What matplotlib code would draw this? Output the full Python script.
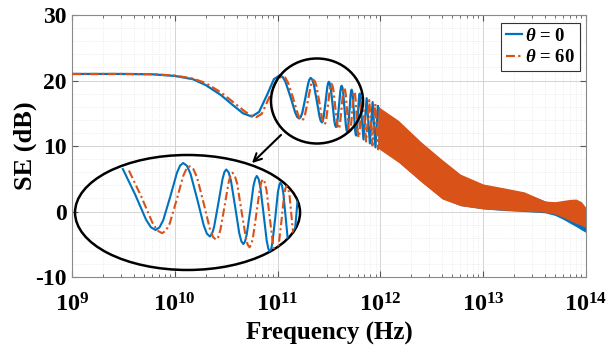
import matplotlib
matplotlib.use("Agg")
import numpy as np
import matplotlib.pyplot as plt
from matplotlib.patches import Ellipse, FancyArrowPatch
from matplotlib.ticker import MultipleLocator, LogLocator, NullFormatter, FuncFormatter

plt.rcParams['font.family'] = ['Liberation Serif', 'DejaVu Serif']
plt.rcParams['font.weight'] = 'bold'
plt.rcParams['axes.labelweight'] = 'bold'
plt.rcParams['axes.unicode_minus'] = False
plt.rcParams['mathtext.fontset'] = 'custom'
plt.rcParams['mathtext.rm'] = 'Liberation Serif:bold'
plt.rcParams['mathtext.it'] = 'Liberation Serif:italic:bold'
plt.rcParams['mathtext.bf'] = 'Liberation Serif:bold'

BLUE = '#0072BD'
ORANGE = '#D95319'

# theta = 0, resolved part of the curve (frequency in units of 1e11 Hz, SE in dB)
blue_f = [0.01, 0.03, 0.06, 0.1, 0.15, 0.2, 0.28, 0.37, 0.46, 0.56,
          0.66, 0.8, 0.92,
          1.05, 1.12, 1.19, 1.335, 1.48, 1.55, 1.62,
          1.68, 1.74, 1.86, 1.98, 2.04, 2.1,
          2.175, 2.25, 2.4, 2.55, 2.625, 2.7,
          2.755, 2.81, 2.925, 3.04, 3.095, 3.15,
          3.22, 3.29, 3.425, 3.56, 3.63, 3.7,
          3.76, 3.82, 3.95, 4.07, 4.14, 4.2,
          4.27, 4.34, 4.475, 4.61, 4.68, 4.75,
          4.81, 4.87, 5.0, 5.12, 5.19, 5.25,
          5.32, 5.39, 5.525, 5.66, 5.73, 5.8,
          5.86, 5.92, 6.05, 6.17, 6.24, 6.3,
          6.85, 7.35, 7.9, 8.4, 8.95, 9.45]
blue_se = [21.0, 21.0, 20.95, 20.7, 20.2, 19.3, 17.8, 16.2, 15.0, 14.5,
           15.2, 18.0, 20.2,
           20.8, 20.55, 19.84, 17.5, 15.16, 14.45, 14.2,
           14.44, 15.1, 17.3, 19.5, 20.16, 20.4,
           20.14, 19.4, 17.0, 14.6, 13.86, 13.6,
           13.84, 14.5, 16.7, 18.9, 19.56, 19.8,
           19.54, 18.8, 16.35, 13.9, 13.16, 12.9,
           13.14, 13.8, 16.05, 18.3, 18.96, 19.2,
           18.93, 18.2, 15.7, 13.2, 12.47, 12.2,
           12.44, 13.13, 15.4, 17.67, 18.36, 18.6,
           18.33, 17.6, 15.1, 12.6, 11.87, 11.6,
           11.84, 12.53, 14.8, 17.07, 17.76, 18.0,
           11.0, 17.3, 10.4, 16.7, 9.8, 16.1]

# theta = 60, resolved part of the curve (frequency in units of 1e11 Hz, SE in dB)
orange_f = [0.01, 0.03, 0.06, 0.1, 0.15, 0.2, 0.28, 0.37, 0.46, 0.54,
            0.62, 0.70, 0.84, 0.97,
            1.11, 1.185, 1.26, 1.415, 1.57, 1.645, 1.72,
            1.785, 1.85, 1.975, 2.1, 2.165, 2.23,
            2.31, 2.39, 2.545, 2.7, 2.78, 2.86,
            2.92, 2.98, 3.1, 3.22, 3.28, 3.34,
            3.41, 3.49, 3.63, 3.78, 3.85, 3.92,
            3.985, 4.05, 4.185, 4.32, 4.385, 4.45,
            4.52, 4.6, 4.74, 4.89, 4.96, 5.03,
            5.095, 5.16, 5.3, 5.43, 5.5, 5.57,
            5.645, 5.72, 5.86, 6.01, 6.08, 6.15,
            6.215, 6.28, 6.41, 6.55, 6.615, 6.68,
            7.26, 7.79, 8.37, 8.9, 9.49, 10.0]
orange_se = [21.0, 21.0, 20.97, 20.75, 20.3, 19.6, 18.2, 16.7, 15.5, 14.7,
             14.4, 14.9, 17.6, 19.9,
             20.7, 20.44, 19.7, 17.3, 14.9, 14.16, 13.9,
             14.14, 14.8, 17.0, 19.2, 19.86, 20.1,
             19.84, 19.1, 16.7, 14.3, 13.56, 13.3,
             13.54, 14.2, 16.4, 18.6, 19.26, 19.5,
             19.24, 18.5, 16.05, 13.6, 12.86, 12.6,
             12.84, 13.5, 15.75, 18.0, 18.66, 18.9,
             18.63, 17.9, 15.4, 12.9, 12.17, 11.9,
             12.14, 12.8, 15.1, 17.4, 18.06, 18.3,
             18.03, 17.3, 14.8, 12.3, 11.57, 11.3,
             11.54, 12.2, 14.5, 16.8, 17.46, 17.7,
             10.7, 17.0, 10.1, 16.4, 9.5, 15.8]

# dense oscillation region: envelopes (Hz, dB)
band_f = [9.45e11, 1e12, 1.5e12, 2.5e12, 4e12, 6e12, 1e13, 1.6e13, 2.5e13,
          4e13, 5e13, 6e13, 7e13, 8e13, 9e13, 1e14]
blue_upper = [16.1, 15.6, 13.6, 10.4, 7.7, 5.5, 4.1, 3.5, 2.9,
              1.6, 1.3, 1.0, 0.6, 0.2, -0.2, -0.6]
blue_lower = [9.8, 9.5, 7.6, 4.6, 2.0, 0.9, 0.4, 0.15, 0.0,
              -0.2, -0.6, -1.2, -1.8, -2.3, -2.8, -3.2]
orange_upper = [16.2, 15.8, 13.9, 10.6, 7.9, 5.7, 4.2, 3.6, 3.0,
                1.6, 1.5, 1.7, 1.85, 1.9, 1.5, 0.6]
orange_lower = [9.7, 9.4, 7.5, 4.5, 1.9, 0.9, 0.4, 0.2, 0.05,
                -0.1, -0.4, -0.9, -1.4, -1.8, -2.1, -2.5]

# the magnified view starts just after the first resonance peak
inset_start_blue = 1.19
inset_start_orange = 1.26

DASHDOT = (4, 1.5, 1, 1.5)

bf = np.array(blue_f) * 1e11
of = np.array(orange_f) * 1e11
bse = np.array(blue_se)
ose = np.array(orange_se)

fig = plt.figure(figsize=(6.16, 3.49), dpi=100)
ax = fig.add_axes([0.1169, 0.2063, 0.8344, 0.7507])

ax.plot(bf, bse, color=BLUE, lw=1.6, label=r'$\theta$ = 0', zorder=3)
ax.plot(of, ose, color=ORANGE, lw=1.6, dashes=DASHDOT,
        label=r'$\theta$ = 60', zorder=3)
ax.fill_between(band_f, blue_lower, blue_upper, color=BLUE, lw=0, zorder=2)
ax.fill_between(band_f, orange_lower, orange_upper, color=ORANGE, lw=0, zorder=2.5)

ax.set_xscale('log')
ax.set_xlim(1e9, 1e14)
ax.set_ylim(-10, 30)
ax.set_yticks([-10, 0, 10, 20, 30])
ax.yaxis.set_minor_locator(MultipleLocator(2))
ax.xaxis.set_major_locator(LogLocator(base=10, numticks=10))
ax.xaxis.set_major_formatter(FuncFormatter(lambda v, p: r'$\mathbf{10^{%d}}$' % round(np.log10(v))))
ax.xaxis.set_minor_locator(LogLocator(base=10, subs=range(2, 10), numticks=100))
ax.xaxis.set_minor_formatter(NullFormatter())
ax.grid(True, which='major', color='#d4d4d4', lw=0.7)
ax.grid(True, which='minor', color='#e2e2e2', lw=0.5, ls=':')
ax.tick_params(which='both', direction='in', top=True, right=True,
               color='#555555', labelsize=17)
ax.tick_params(axis='x', which='major', length=4, pad=12, labelsize=17.5)
ax.tick_params(axis='y', which='major', length=4, pad=4)
ax.tick_params(axis='x', which='minor', length=2)
ax.tick_params(axis='y', which='minor', length=0)
for lbl in ax.get_yticklabels():
    lbl.set_fontweight('bold')
for s in ax.spines.values():
    s.set_color('#8a8a8a')
    s.set_linewidth(0.8)

ax.set_xlabel('Frequency (Hz)', fontsize=18, fontweight='bold', va='top')
ax.xaxis.set_label_coords(0.5, -0.172)
ax.set_ylabel('SE (dB)', fontsize=19, fontweight='bold')
ax.yaxis.set_label_coords(-0.068, 0.5)

leg = ax.legend(loc='upper right', bbox_to_anchor=(0.988, 0.97), borderaxespad=0,
                fontsize=13.5, handlelength=0.9, handletextpad=0.15,
                borderpad=0.25, labelspacing=0.25, fancybox=False,
                framealpha=1, edgecolor='#333333')
leg.get_frame().set_linewidth(0.8)

# magnified view inside the big ellipse
axin = fig.add_axes([0.1218, 0.2264, 0.3653, 0.3295])
axin.patch.set_alpha(0)
axin.set_axis_off()
axin.set_xscale('log')
axin.set_xlim(10 ** 10.88, 10 ** 11.80)
axin.set_ylim(10.5, 21.14)
ell = Ellipse((0.5, 0.5), 1, 1, transform=axin.transAxes, fill=False,
              ec='black', lw=1.8, clip_on=False)
axin.add_patch(ell)
mb = np.array(blue_f) >= inset_start_blue
mo = np.array(orange_f) >= inset_start_orange
l1, = axin.plot(bf[mb], bse[mb], color=BLUE, lw=1.5)
l2, = axin.plot(of[mo], ose[mo], color=ORANGE, lw=1.5, dashes=DASHDOT)
for ln in (l1, l2):
    ln.set_clip_path(ell)

# small ellipse around the zoomed region and the arrow
fig.add_artist(Ellipse((0.5146, 0.7106), 0.1494, 0.2436, transform=fig.transFigure,
                       fill=False, ec='black', lw=1.8))
fig.add_artist(FancyArrowPatch((0.4594, 0.6189), (0.4058, 0.5272),
                               transform=fig.transFigure, arrowstyle='->',
                               mutation_scale=14, lw=1.5, color='black'))

fig.savefig('out.png', dpi=100)
